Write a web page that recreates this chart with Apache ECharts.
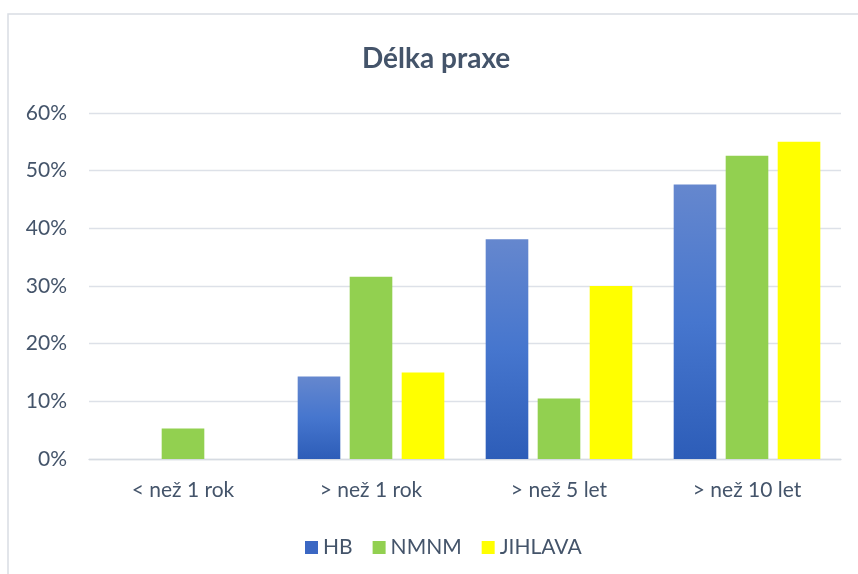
<!DOCTYPE html>
<html>
<head>
<meta charset="utf-8">
<script src="https://cdn.jsdelivr.net/npm/echarts@6/dist/echarts.min.js"></script>
<style>html,body{margin:0;padding:0;background:#fff}#c{width:858px;height:574px}</style>
</head>
<body>
<div id="c"></div>
<script>
const categories = ['< než 1 rok', '> než 1 rok', '> než 5 let', '> než 10 let'];
const hbValues = [0, 14.3, 38.1, 47.6];
const nmnmValues = [5.3, 31.6, 10.5, 52.6];
const jihlavaValues = [0, 15, 30, 55];
const seriesNames = ['HB', 'NMNM', 'JIHLAVA'];
const yTicks = [0, 10, 20, 30, 40, 50, 60];

const textColor = '#44546A';
const font = 'Lato';
const chart = echarts.init(document.getElementById('c'), null, {renderer: 'canvas'});
const hbGradient = new echarts.graphic.LinearGradient(0, 0, 0, 1, [
  {offset: 0, color: '#6587CE'},
  {offset: 0.5, color: '#4676CE'},
  {offset: 1, color: '#2D5DB8'}
]);
chart.setOption({
  animation: false,
  backgroundColor: '#fff',
  graphic: [{
    type: 'rect', shape: {x: 8, y: 14, width: 900, height: 600},
    style: {fill: 'none', stroke: '#D9DDE4', lineWidth: 1.5}, silent: true
  }],
  title: {
    text: 'Délka praxe', left: 357, top: 40,
    textStyle: {fontFamily: font, fontSize: 28, fontWeight: 'bold', color: textColor}
  },
  legend: {
    data: [
      {name: seriesNames[0], itemStyle: {color: '#3B67C3'}},
      {name: seriesNames[1], itemStyle: {color: '#92D050'}},
      {name: seriesNames[2], itemStyle: {color: '#FFFF00'}}
    ],
    left: 300, top: 532, itemWidth: 13, itemHeight: 13, itemGap: 20, icon: 'rect',
    textStyle: {fontFamily: font, fontSize: 21, color: textColor}
  },
  grid: {left: 89, right: 17, top: 113, bottom: 115, containLabel: false},
  xAxis: {
    type: 'category', data: categories,
    axisTick: {show: false},
    axisLine: {lineStyle: {color: '#D6DBE2', width: 1.3}},
    axisLabel: {fontFamily: font, fontSize: 21, color: textColor, margin: 21}
  },
  yAxis: {
    type: 'value', min: yTicks[0], max: yTicks[yTicks.length - 1], interval: 10,
    axisLine: {show: false}, axisTick: {show: false},
    splitLine: {lineStyle: {color: '#DDE1E8', width: 1.3}},
    axisLabel: {fontFamily: font, fontSize: 21, color: textColor, margin: 22, formatter: '{value}%'}
  },
  series: [
    {name: seriesNames[0], type: 'bar', data: hbValues, barGap: '22%', barCategoryGap: '22%',
     itemStyle: {color: hbGradient}},
    {name: seriesNames[1], type: 'bar', data: nmnmValues,
     itemStyle: {color: '#92D050'}},
    {name: seriesNames[2], type: 'bar', data: jihlavaValues,
     itemStyle: {color: '#FFFF00'}}
  ]
});
</script>
</body>
</html>
